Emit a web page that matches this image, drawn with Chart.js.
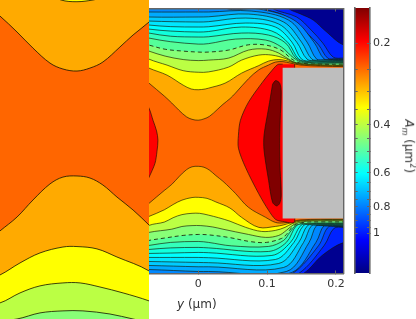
<!DOCTYPE html>
<html>
<head>
<meta charset="utf-8">
<script src="https://cdn.jsdelivr.net/npm/chart.js@4/dist/chart.umd.min.js"></script>
<style>
html, body { margin: 0; padding: 0; background: #fff; }
body { position: relative; width: 416px; height: 319px; overflow: hidden; font-family: "DejaVu Sans", sans-serif; color: #333; }
canvas { position: absolute; top: 0; }
#mainChart { left: 0; }
#insetChart { left: 0; }
#barChart { left: 350px; top: -6px; }
.axis-label { position: absolute; font-size: 12px; white-space: nowrap; line-height: 14px; }
#xLabel { left: 177px; top: 297px; }
#barLabel { left: 378px; top: 135px; width: 60px; text-align: center; transform: rotate(90deg); }
#barLabel sub { font-size: 8px; font-style: italic; }
</style>
</head>
<body>
<canvas id="mainChart" width="352" height="319"></canvas>
<canvas id="insetChart" width="149" height="319"></canvas>
<canvas id="barChart" width="66" height="325"></canvas>
<div id="xLabel" class="axis-label"><i>y</i> (µm)</div>
<div id="barLabel" class="axis-label"><i>A</i><sub>m</sub> (µm<sup style="font-size:8px">2</sup>)</div>
<script>
// contour lines, [y, z] in um, left to right
const top1 = [[-.0905,.104],[-.0715,.0876],[-.0493,.0688],[-.0384,.0586],[-.0282,.0483],[-.0173,.0387],[-.009,.0349],[0,.0336],[.0083,.0355],[.0166,.0394],[.0275,.049],[.0359,.0567],[.0461,.065],[.054,.073],[.073,.094],[.088,.107],[.102,.1139],[.112,.1183],[.123,.119],[.134,.1168],[.149,.1139],[.178,.1124],[.2117,.1117]];
const bot1 = [[-.0905,-.104],[-.0715,-.0876],[-.0493,-.0688],[-.0384,-.0599],[-.0282,-.049],[-.0173,-.0387],[-.009,-.0343],[0,-.0336],[.0083,-.0349],[.0166,-.0394],[.0256,-.0471],[.0359,-.0554],[.0461,-.065],[.054,-.073],[.073,-.0934],[.098,-.108],[.112,-.1153],[.124,-.1161],[.136,-.1139],[.149,-.1117],[.178,-.1106],[.2117,-.1105]];
const top2 = [[-.0905,.12],[-.0715,.1095],[-.0453,.0993],[-.0219,.0847],[-.0102,.0791],[0,.078],[.0102,.0791],[.015,.0803],[.039,.0876],[.063,.1022],[.088,.1132],[.102,.1197],[.117,.1219],[.131,.1197],[.146,.1153],[.178,.1132],[.2117,.1124]];
const bot2 = [[-.0905,-.114],[-.0715,-.1066],[-.0493,-.097],[-.0365,-.0893],[-.0237,-.0829],[-.009,-.0791],[0,-.0788],[.0128,-.0803],[.0256,-.0855],[.0461,-.0944],[.063,-.108],[.088,-.1226],[.112,-.1212],[.124,-.119],[.136,-.1153],[.149,-.1124],[.178,-.1113],[.2117,-.1113]];
const top3 = [[-.0905,.133],[-.0715,.1226],[-.0453,.1139],[-.0219,.1058],[0,.1035],[.015,.104],[.044,.111],[.063,.1212],[.088,.1285],[.107,.1285],[.127,.1234],[.142,.1168],[.178,.1139],[.2117,.1132]];
const bot3 = [[-.0905,-.131],[-.0715,-.1197],[-.0493,-.1149],[-.0365,-.1085],[-.0237,-.104],[-.009,-.1021],[.002,-.1021],[.0147,-.1047],[.0295,-.1085],[.0461,-.1136],[.069,-.1226],[.092,-.1285],[.112,-.127],[.126,-.1226],[.137,-.1168],[.15,-.1132],[.178,-.1121],[.2117,-.1121]];
const top4 = [[-.0905,.141],[-.0715,.1343],[-.048,.127],[-.0219,.122],[0,.1205],[.015,.1212],[.044,.1241],[.073,.1358],[.098,.1372],[.117,.1314],[.136,.1197],[.149,.1161],[.178,.1143],[.2117,.1139]];
const bot4 = [[-.0905,-.136],[-.0715,-.1299],[-.0384,-.1252],[-.0237,-.1213],[-.009,-.12],[.0038,-.12],[.0211,-.122],[.0359,-.1252],[.073,-.1329],[.098,-.1372],[.117,-.1343],[.128,-.127],[.139,-.1183],[.153,-.1142],[.178,-.1132],[.2117,-.1132]];
const top5 = [[-.0905,.148],[-.0715,.1431],[-.048,.137],[-.0219,.1343],[0,.1329],[.015,.1329],[.044,.1358],[.073,.1435],[.098,.1431],[.12,.1358],[.136,.1226],[.149,.1168],[.178,.1153],[.2117,.1153]];
const bot5 = [[-.0905,-.146],[-.0715,-.1416],[-.048,-.138],[-.0219,-.1343],[0,-.1329],[.015,-.1335],[.044,-.1372],[.077,-.1435],[.099,-.1445],[.121,-.1387],[.128,-.1329],[.136,-.1226],[.143,-.1175],[.156,-.115],[.178,-.1146],[.2117,-.1146]];
const top6 = [[-.0905,.158],[-.0715,.1533],[-.04,.148],[0,.1445],[.015,.1452],[.054,.1518],[.098,.1504],[.121,.1402],[.139,.1241],[.153,.1175],[.2117,.1168]];
const bot6 = [[-.0905,-.152],[-.0715,-.1489],[-.04,-.1445],[0,-.1431],[.015,-.1445],[.048,-.1495],[.102,-.1504],[.124,-.1416],[.133,-.1299],[.142,-.1197],[.153,-.1168],[.2117,-.1161]];
const top7 = [[-.0905,.165],[-.0715,.1606],[-.04,.156],[0,.1548],[.015,.1552],[.063,.1606],[.102,.1577],[.127,.146],[.142,.1241],[.158,.118],[.2117,.1175]];
const bot7 = [[-.0905,-.157],[-.0715,-.1548],[-.04,-.1525],[0,-.1518],[.015,-.1525],[.102,-.1577],[.128,-.1445],[.143,-.1197],[.158,-.1172],[.2117,-.1168]];
const top8 = [[-.0905,.17],[-.0715,.1664],[-.04,.1635],[0,.1621],[.015,.1628],[.063,.1694],[.107,.1635],[.131,.146],[.146,.1226],[.161,.119],[.2117,.1183]];
const bot8 = [[-.0905,-.161],[-.0715,-.1606],[-.04,-.16],[0,-.1591],[.015,-.1595],[.107,-.1635],[.134,-.1445],[.149,-.1197],[.161,-.118],[.2117,-.1175]];
const top9 = [[-.0905,.175],[-.0715,.1723],[-.04,.17],[0,.1694],[.015,.1698],[.069,.1752],[.112,.1694],[.136,.1475],[.15,.1226],[.165,.1197],[.2117,.119]];
const bot9 = [[-.0905,-.166],[-.0715,-.1664],[-.04,-.1664],[0,-.1664],[.015,-.1668],[.112,-.1694],[.139,-.1445],[.153,-.1197],[.165,-.1187],[.2117,-.1183]];
const top10 = [[-.0905,.18],[-.0715,.1781],[0,.1767],[.015,.1772],[.069,.1825],[.117,.1737],[.143,.1475],[.158,.1226],[.172,.1205],[.2117,.1197]];
const bot10 = [[-.0905,-.172],[-.0715,-.1723],[0,-.1737],[.015,-.174],[.117,-.1752],[.146,-.1445],[.159,-.1197],[.172,-.1193],[.2117,-.119]];
const top11 = [[-.0905,.186],[-.0715,.184],[0,.184],[.015,.1843],[.073,.1883],[.124,.1767],[.15,.1475],[.165,.1226],[.178,.1212],[.2117,.1205]];
const bot11 = [[-.0905,-.178],[-.0715,-.1781],[0,-.18],[.015,-.18],[.124,-.181],[.153,-.1445],[.165,-.1197],[.178,-.12],[.2117,-.1197]];
const top12 = [[-.0905,.192],[-.0715,.1913],[0,.1913],[.015,.1913],[.077,.1927],[.131,.1796],[.158,.1475],[.172,.1226],[.185,.1217],[.2117,.1212]];
const bot12 = [[-.0905,-.184],[-.0715,-.184],[0,-.1869],[.015,-.1869],[.128,-.1869],[.161,-.1445],[.172,-.1197],[.185,-.1205],[.2117,-.1205]];
const top13 = [[-.0905,.215],[0,.215],[.044,.1956],[.088,.1956],[.139,.1796],[.168,.1475],[.183,.1226],[.196,.1222],[.2117,.1219]];
const bot13 = [[-.0905,-.2],[.04,-.2],[.063,-.1905],[.136,-.1883],[.171,-.1445],[.183,-.1197],[.196,-.121],[.2117,-.1212]];
const top14 = [[-.0905,.215],[.07,.21],[.095,.1964],[.127,.1854],[.156,.1621],[.175,.1431],[.188,.1241],[.2,.1232],[.2117,.1226]];
const bot14 = [[-.0905,-.2],[.1,-.2],[.137,-.1898],[.175,-.1489],[.19,-.1212],[.2117,-.1219]];
const top15 = [[-.0905,.215],[.1,.21],[.108,.1964],[.143,.184],[.164,.165],[.181,.146],[.196,.1256],[.2117,.1241]];
const bot15 = [[-.0905,-.2],[.11,-.2],[.146,-.1898],[.183,-.1489],[.197,-.1241],[.2117,-.1226]];
const top16 = [[-.0905,.215],[.12,.21],[.131,.1964],[.149,.1883],[.167,.1796],[.185,.1635],[.2117,.1431]];
const bot16 = [[-.0905,-.2],[.12,-.2],[.153,-.1898],[.18,-.1635],[.2117,-.1445]];

// closed contours around the low values
const leftRed = [[-.0905,.085],[-.0715,.0511],[-.0657,.0336],[-.0605,.018],[-.0585,.0044],[-.0599,-.0117],[-.0628,-.0292],[-.0715,-.0496],[-.0905,-.09]];
const rightRed = [[.1226,.1153],[.1153,.1146],[.1051,.1037],[.0934,.0891],[.073,.0599],[.0613,.0336],[.0584,.0117],[.0584,-.0073],[.0686,-.035],[.0876,-.073],[.1022,-.0978],[.1124,-.111],[.1226,-.1139],[.14,-.1139],[.14,.1153]];
const darkRed = [[.108,.0861],[.1124,.0913],[.1183,.0876],[.1205,.0745],[.119,.0336],[.1183,0],[.119,-.0394],[.1205,-.0759],[.1183,-.0876],[.1139,-.0913],[.108,-.0861],[.1022,-.054],[.0956,-.0102],[.0956,.0117],[.1022,.0511],[.108,.0861]];
const block = [[.1226,.1102],[.25,.1102],[.25,-.1095],[.1226,-.1095],[.1226,.1102]];
const wholePlot = [[-.2,.3],[.3,.3],[.3,-.3],[-.2,-.3]];

const topLines = [top1, top2, top3, top4, top5, top6, top7, top8, top9, top10, top11, top12, top13, top14, top15, top16];
const botLines = [bot1, bot2, bot3, bot4, bot5, bot6, bot7, bot8, bot9, bot10, bot11, bot12, bot13, bot14, bot15, bot16];
const bandColors = ['#ff6600', '#ffaa00', '#ffff00', '#bbff44', '#88ff77', '#55ff99', '#33ffbb', '#11ffdd', '#00ffff', '#00e6ff', '#00ccff', '#00aaff', '#0088ff', '#0066ff', '#0044ff', '#0022ff'];
const dashedLine = 4; // index of the dashed contour

const xTickValues = [0, 0.1, 0.2];
const barTickValues = [0.2, 0.25, 0.3, 0.35, 0.4, 0.45, 0.5, 0.55, 0.6, 0.65, 0.7, 0.75, 0.8, 0.85, 0.9, 0.95, 1];
const barLabelValues = [0.2, 0.4, 0.6, 0.8, 1];
const barRange = [1.4, 0.1486];
const jetStops = [0, 0.125, 0.375, 0.625, 0.875, 1];
const jetColors = ['#800000', '#ff0000', '#ffff00', '#00ffff', '#0000ff', '#000080'];

const frameColor = '#666';
const lineColor = 'rgba(20,20,0,0.8)';

Chart.defaults.font.family = '"DejaVu Sans", sans-serif';
Chart.defaults.font.size = 11;
Chart.defaults.color = '#333';
Chart.defaults.animation = false;

function toPoints(rows) {
    return rows.map(([x, y]) => ({ x, y }));
}

function regionPoints(top, bot) {
    const rows = [...top, [0.24, top[top.length - 1][1]], [0.24, bot[bot.length - 1][1]], ...bot.slice().reverse()];
    return toPoints(rows);
}

function shape(rows, color, lineWidth, tension) {
    return {
        data: toPoints(rows),
        showLine: true,
        pointRadius: 0,
        fill: 'shape',
        backgroundColor: color,
        borderColor: lineColor,
        borderWidth: lineWidth,
        tension
    };
}

// first dataset ends up on top, so inner regions come first
function buildDatasets(lineWidth) {
    const datasets = [
        shape(block, '#bebebe', 0, 0),
        shape(darkRed, '#800000', lineWidth, 0.3),
        shape(rightRed, '#ff0000', lineWidth, 0.3),
        shape(leftRed, '#ff0000', lineWidth, 0.3)
    ];
    topLines.forEach((top, i) => {
        const ds = shape([], bandColors[i], lineWidth, 0.35);
        ds.data = regionPoints(top, botLines[i]);
        if (i === dashedLine) {
            ds.borderDash = [4, 3];
            ds.borderWidth = 1;
        }
        datasets.push(ds);
    });
    datasets.push(shape(wholePlot, '#000090', 0, 0));
    return datasets;
}

const sharedPlugins = { legend: { display: false }, tooltip: { enabled: false }, filler: { drawTime: 'beforeDatasetDraw' } };

new Chart(document.getElementById('mainChart'), {
    type: 'scatter',
    data: { datasets: buildDatasets(0.8) },
    options: {
        responsive: false,
        layout: { padding: { left: 149, right: 0, top: 8.5, bottom: 0 } },
        elements: { line: { capBezierPoints: false } },
        plugins: sharedPlugins,
        scales: {
            x: {
                type: 'linear',
                position: 'bottom',
                min: -0.0715,
                max: 0.2117,
                afterBuildTicks: axis => { axis.ticks = xTickValues.map(value => ({ value })); },
                afterFit: axis => { axis.height = 45.5; },
                ticks: { padding: 7, maxRotation: 0, autoSkip: false, callback: v => String(v) },
                grid: { drawOnChartArea: false, tickLength: -3, color: frameColor, z: 1 },
                border: { color: frameColor, width: 1.4, z: 1 }
            },
            xTop: {
                type: 'linear',
                position: 'top',
                min: -0.0715,
                max: 0.2117,
                afterBuildTicks: axis => { axis.ticks = xTickValues.map(value => ({ value })); },
                afterFit: axis => { axis.height = 0; },
                ticks: { display: false },
                grid: { drawOnChartArea: false, tickLength: -3, color: frameColor, z: 1 },
                border: { color: frameColor, width: 1.4, z: 1 }
            },
            y: {
                type: 'linear',
                position: 'right',
                min: -0.1898,
                max: 0.1964,
                afterFit: axis => { axis.width = 0; },
                ticks: { display: false },
                grid: { drawOnChartArea: false, drawTicks: false },
                border: { color: frameColor, width: 1.4, z: 1 }
            }
        }
    }
});

new Chart(document.getElementById('insetChart'), {
    type: 'scatter',
    data: { datasets: buildDatasets(1) },
    options: {
        responsive: false,
        layout: { padding: 0 },
        elements: { line: { capBezierPoints: false } },
        plugins: sharedPlugins,
        scales: {
            x: { type: 'linear', display: false, min: -0.0493, max: 0.0461 },
            y: { type: 'linear', display: false, min: -0.1252, max: 0.0791 }
        }
    }
});

const barCanvas = document.getElementById('barChart');
const jet = barCanvas.getContext('2d').createLinearGradient(0, 14, 0, 279);
jetStops.forEach((stop, i) => jet.addColorStop(stop, jetColors[i]));

const barTickOptions = {
    type: 'logarithmic',
    reverse: true,
    min: barRange[1],
    max: barRange[0],
    afterBuildTicks: axis => { axis.ticks = barTickValues.map(value => ({ value })); }
};

new Chart(barCanvas, {
    type: 'bar',
    data: {
        labels: [''],
        datasets: [{
            data: [barRange],
            backgroundColor: jet,
            barPercentage: 1,
            categoryPercentage: 1
        }]
    },
    options: {
        responsive: false,
        layout: { padding: { top: 14, bottom: 46 } },
        plugins: { legend: { display: false }, tooltip: { enabled: false } },
        scales: {
            x: { display: false },
            y: {
                ...barTickOptions,
                position: 'right',
                afterFit: axis => { axis.width = 46; },
                ticks: {
                    padding: 6,
                    autoSkip: false,
                    maxRotation: 0,
                    callback: v => (barLabelValues.includes(v) ? String(v) : '')
                },
                grid: { drawOnChartArea: false, tickLength: -3, color: frameColor, z: 1 },
                border: { color: frameColor, width: 1.6, z: 1 }
            },
            yLeft: {
                ...barTickOptions,
                position: 'left',
                afterFit: axis => { axis.width = 4.7; },
                ticks: { display: false },
                grid: { drawOnChartArea: false, tickLength: -3, color: frameColor, z: 1 },
                border: { color: frameColor, width: 1.6, z: 1 }
            }
        }
    }
});
</script>
</body>
</html>
